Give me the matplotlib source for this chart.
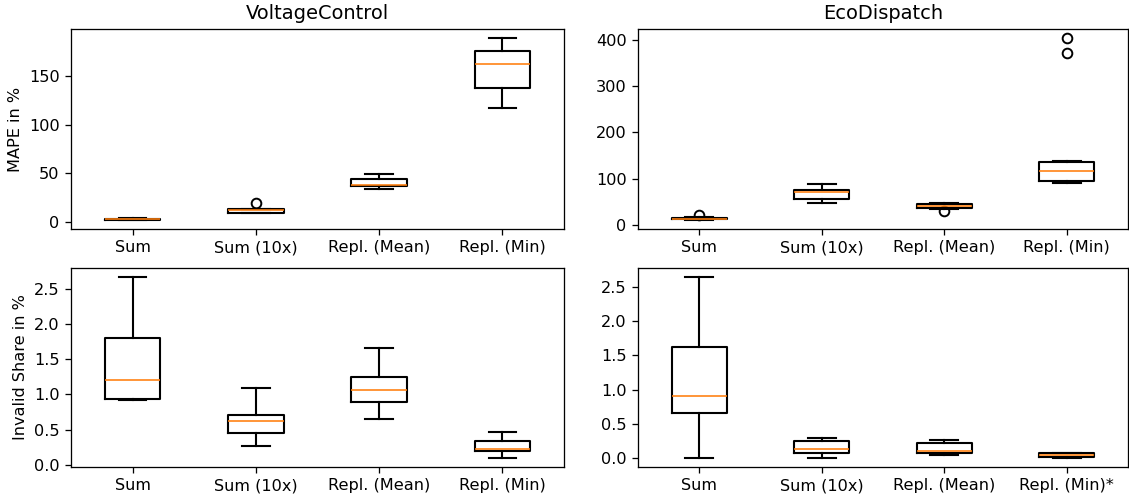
import matplotlib
matplotlib.use("Agg")
import matplotlib.pyplot as plt

labels = ["Sum", "Sum (10x)", "Repl. (Mean)", "Repl. (Min)"]
labels_eco_inv = ["Sum", "Sum (10x)", "Repl. (Mean)", "Repl. (Min)*"]

# VoltageControl MAPE
vc_mape_whislo = [2.0, 9.3, 34.0, 117.0]
vc_mape_q1 = [2.3, 9.6, 36.7, 138.0]
vc_mape_med = [2.8, 12.0, 38.1, 162.3]
vc_mape_q3 = [3.3, 13.4, 44.3, 175.7]
vc_mape_whishi = [3.6, 13.6, 49.1, 189.0]
vc_mape_fliers = [[], [19.5], [], []]

# EcoDispatch MAPE
ed_mape_whislo = [10.5, 48.1, 34.5, 89.8]
ed_mape_q1 = [11.5, 55.3, 35.9, 95.5]
ed_mape_med = [13.0, 70.4, 39.5, 117.0]
ed_mape_q3 = [14.5, 75.4, 45.2, 135.0]
ed_mape_whishi = [16.0, 88.3, 46.7, 137.2]
ed_mape_fliers = [[21.5], [], [30.2], [371.3, 403.6]]

# VoltageControl invalid share
vc_inv_whislo = [0.914, 0.26, 0.649, 0.095]
vc_inv_q1 = [0.933, 0.45, 0.895, 0.189]
vc_inv_med = [1.198, 0.62, 1.056, 0.223]
vc_inv_q3 = [1.80, 0.71, 1.245, 0.331]
vc_inv_whishi = [2.67, 1.094, 1.662, 0.459]
vc_inv_fliers = [[], [], [], []]

# EcoDispatch invalid share
ed_inv_whislo = [0.0, 0.0, 0.044, 0.0]
ed_inv_q1 = [0.652, 0.073, 0.073, 0.015]
ed_inv_med = [0.91, 0.126, 0.097, 0.039]
ed_inv_q3 = [1.625, 0.243, 0.219, 0.073]
ed_inv_whishi = [2.646, 0.297, 0.263, 0.078]
ed_inv_fliers = [[], [], [], []]


def make_stats(lo, q1, med, q3, hi, fl, labs):
    return [dict(whislo=a, q1=b, med=c, q3=d, whishi=e, fliers=f, label=l)
            for a, b, c, d, e, f, l in zip(lo, q1, med, q3, hi, fl, labs)]


W, H = 1129, 495
DPI = 116
fig = plt.figure(figsize=(W / DPI, H / DPI), dpi=DPI)

def pos(l, r, t, b):
    return [l / W, 1 - b / H, (r - l) / W, (b - t) / H]

ax_tl = fig.add_axes(pos(71, 564, 29, 229))
ax_tr = fig.add_axes(pos(638, 1128, 29, 229))
ax_bl = fig.add_axes(pos(71, 564, 268, 467))
ax_br = fig.add_axes(pos(638, 1128, 268, 467))

lw = 1.3
style = dict(boxprops=dict(linewidth=lw), whiskerprops=dict(linewidth=lw),
             capprops=dict(linewidth=lw), medianprops=dict(linewidth=1.0),
             flierprops=dict(markeredgewidth=1.2))

ax_tl.bxp(make_stats(vc_mape_whislo, vc_mape_q1, vc_mape_med, vc_mape_q3,
                     vc_mape_whishi, vc_mape_fliers, labels), **style)
ax_tr.bxp(make_stats(ed_mape_whislo, ed_mape_q1, ed_mape_med, ed_mape_q3,
                     ed_mape_whishi, ed_mape_fliers, labels), **style)
ax_bl.bxp(make_stats(vc_inv_whislo, vc_inv_q1, vc_inv_med, vc_inv_q3,
                     vc_inv_whishi, vc_inv_fliers, labels), **style)
ax_br.bxp(make_stats(ed_inv_whislo, ed_inv_q1, ed_inv_med, ed_inv_q3,
                     ed_inv_whishi, ed_inv_fliers, labels_eco_inv), **style)

ax_tl.set_title("VoltageControl")
ax_tr.set_title("EcoDispatch")
ax_tl.set_ylabel("MAPE in %")
ax_bl.set_ylabel("Invalid Share in %")

ax_tl.set_yticks([0, 50, 100, 150])
ax_tr.set_yticks([0, 100, 200, 300, 400])
ax_bl.set_yticks([0, 0.5, 1.0, 1.5, 2.0, 2.5])
ax_br.set_yticks([0, 0.5, 1.0, 1.5, 2.0, 2.5])

fig.savefig("out.png", dpi=DPI)
